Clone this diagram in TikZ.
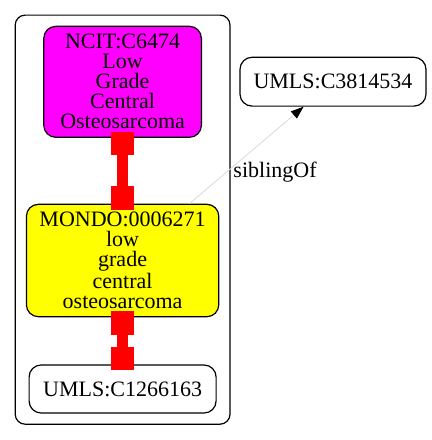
\documentclass[tikz,border=0pt]{standalone}
\usepackage{fontspec}
\setmainfont{Liberation Serif}
\usetikzlibrary{arrows.meta}
\usetikzlibrary{fit}
\definecolor{ncitcolor}{RGB}{255,0,255}
\definecolor{mondocolor}{RGB}{255,255,0}
\definecolor{mapcolor}{RGB}{255,0,0}

\begin{document}
\begin{tikzpicture}[
        x=0.5pt, y=-0.5pt, % Unidades de la figura (eje y hacia abajo)
        font=\fontsize{11}{10}\selectfont, % Tamaño de la fuente para las etiquetas
        term/.style={draw, line width=0.6pt, rounded corners=6pt, 
        align=center, inner sep=0pt}, % Estilo para los términos
        cluster/.style={draw, line width=0.6pt, rounded corners=5pt, 
        inner sep=5.3pt}, % Estilo para el grupo
        mapping/.style={mapcolor, line width=5.8pt, 
        {Square[length=11.7pt, width=11.8pt, line width=0pt]}-{Square[length=11.7pt, width=11.8pt, line width=0pt]}, 
        shorten <=-3pt, shorten >=-3pt}, % Estilo para las equivalencias
        sibling/.style={-{Triangle[length=6.4pt, width=4.6pt, black]}, 
        gray!30, line width=0.4pt}, % Estilo para siblingOf
    ]
        \useasboundingbox (0,0) rectangle (432,440);

        % --- Términos del grupo ---
        \node[term, fill=ncitcolor, minimum width=78.8pt, minimum height=55.5pt] (ncit) at (122.6,81.8)
            {NCIT:C6474\\Low\\Grade\\Central\\Osteosarcoma};
        \node[term, fill=mondocolor, minimum width=96.2pt, minimum height=56.2pt] (mondo) at (122.6,260.5)
            {MONDO:0006271\\low\\grade\\central\\osteosarcoma};
        \node[term, minimum width=93.5pt, minimum height=24pt] (umlsA) at (122.6,389) {UMLS:C1266163};

        % Caja del grupo
        \node[cluster, fit=(ncit)(mondo)(umlsA)] (grupo) {};

        % --- Término fuera del grupo ---
        \node[term, minimum width=93pt, minimum height=24.4pt] (umlsB) at (333,81.7) {UMLS:C3814534};

        % --- Equivalencias (rojo) ---
        \draw[mapping] (ncit) -- (mondo);
        \draw[mapping] (mondo) -- (umlsA);

        % --- Relación siblingOf ---
        \draw[sibling] (mondo) -- node[pos=0.33, anchor=west, inner sep=3pt, text=black] (lblsib) {siblingOf} (umlsB);

    \end{tikzpicture}
\end{document}
